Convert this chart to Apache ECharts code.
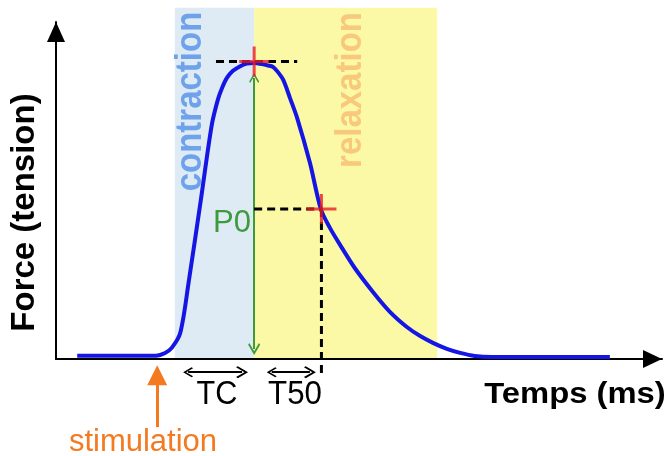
<!DOCTYPE html>
<html lang="fr">
<head>
<meta charset="UTF-8" />
<title>Secousse musculaire</title>
<script src="https://cdn.jsdelivr.net/npm/echarts@6/dist/echarts.min.js"></script>
<style>html,body{margin:0;padding:0;background:#fff}</style>
</head>
<body>
<div id="main" style="width:670px;height:456px"></div>
<script>
// courbe de force (temps en unités arbitraires, force en % de l'axe)
var tempsX = [3.5, 16.5, 18.0, 19.1, 20.5, 21.9, 23.9, 25.7, 26.7, 27.4, 28.2, 29.2, 30.4, 31.5, 32.7, 34.0, 35.0, 35.8, 36.6, 37.5,
              38.6, 39.8, 41.9, 43.7, 45.2, 46.9, 49.3, 52.3, 55.1, 57.9, 60.1, 62.2, 64.5, 66.7, 69.1, 72.0, 91.4];
var forceY = [1.0, 1.0, 1.8, 3.3, 7.7, 22.9, 47.2, 69.4, 76.9, 80.4, 83.4, 85.5, 86.9, 87.7, 87.8, 87.5, 87.1, 86.7, 85.2, 82.8,
              77.5, 71.5, 58.2, 44.5, 38.9, 33.8, 27.0, 19.9, 14.0, 9.5, 6.8, 4.8, 3.0, 1.8, 0.9, 0.6, 0.6];

// phases (début, fin)
var phaseContraction = [19.6, 32.7];
var phaseRelaxation = [32.7, 62.9];
var phaseTop = 104.2;

// repères
var pic = [32.7, 88.3];        // P0
var demi = [43.8, 44.5];       // T50
var dashPic = [26.4, 39.8];
var dashDemiBas = -4.2;
var flecheP0 = [83.4, 3.0];
var flecheTC = [21.8, 30.7];
var flecheT50 = [35.6, 41.9];
var flecheY = -3.9;
var stimX = 16.7;
var stimY = [-20.2, -4.8];

var chev = 'path://M5,0 L10,8.5 L9,10 L5,3 L1,10 L0,8.5 Z';
var croix = 'path://M4.5,0 H5.5 V4.5 H10 V5.5 H5.5 V10 H4.5 V5.5 H0 V4.5 H4.5 Z';
var phaseColors = ['#deebf4', '#fbf9a6'];

var curve = tempsX.map(function (t, i) { return [t, forceY[i]]; });

var myChart = echarts.init(document.getElementById('main'));

var dashStyle = { color: '#000', width: 3, type: [8, 5] };

var option = {
  backgroundColor: '#fff',
  animation: false,
  grid: { left: 56, right: 8, top: 22, bottom: 97, containLabel: false, outerBoundsMode: 'none' },
  xAxis: {
    type: 'value', min: 0, max: 100, z: 3,
    axisLine: { lineStyle: { color: '#000', width: 2 }, symbol: ['none', 'triangle'], symbolSize: [18, 19], symbolOffset: [0, -9.5] },
    axisTick: { show: false }, axisLabel: { show: false }, splitLine: { show: false }
  },
  yAxis: {
    type: 'value', min: 0, max: 100, z: 3,
    axisLine: { lineStyle: { color: '#000', width: 2 }, symbol: ['none', 'triangle'], symbolSize: [18, 20], symbolOffset: [0, -10] },
    axisTick: { show: false }, axisLabel: { show: false }, splitLine: { show: false },
    name: 'Force (tension)', nameLocation: 'middle', nameGap: 15, nameRotate: 90,
    nameTextStyle: { color: '#000', fontWeight: 'bold', fontSize: 33, fontFamily: 'Liberation Sans', padding: [0, 44, 0, 0] }
  },
  series: [
    {
      type: 'custom', clip: false, z: 1, silent: true,
      data: [phaseContraction, phaseRelaxation],
      renderItem: function (params, api) {
        var a = api.coord([api.value(0), phaseTop]);
        var b = api.coord([api.value(1), 0]);
        return {
          type: 'rect',
          shape: { x: a[0], y: a[1], width: b[0] - a[0], height: b[1] - a[1] },
          style: { fill: phaseColors[params.dataIndex] }
        };
      }
    },
    {
      type: 'line', data: curve, smooth: 0.3, symbol: 'none', clip: false, z: 4,
      lineStyle: { color: '#1616e4', width: 4 }
    },
    { type: 'line', data: [[dashPic[0], pic[1]], [dashPic[1], pic[1]]], symbol: 'none', clip: false, z: 5, lineStyle: dashStyle },
    { type: 'line', data: [[pic[0], demi[1]], [demi[0], demi[1]]], symbol: 'none', clip: false, z: 5, lineStyle: dashStyle },
    { type: 'line', data: [[demi[0], demi[1]], [demi[0], dashDemiBas]], symbol: 'none', clip: false, z: 5, lineStyle: dashStyle },
    {
      type: 'lines', coordinateSystem: 'cartesian2d', clip: false, z: 5,
      symbol: [chev, chev], symbolSize: [10, 12],
      lineStyle: { color: '#3d9a3d', width: 2, curveness: 0, opacity: 1 },
      data: [{ coords: [[pic[0], flecheP0[0]], [pic[0], flecheP0[1]]] }]
    },
    {
      type: 'lines', coordinateSystem: 'cartesian2d', clip: false, z: 5,
      symbol: [chev, chev], symbolSize: [10, 12],
      lineStyle: { color: '#000', width: 2, curveness: 0, opacity: 1 },
      data: [
        { coords: [[flecheTC[0], flecheY], [flecheTC[1], flecheY]] },
        { coords: [[flecheT50[0], flecheY], [flecheT50[1], flecheY]] }
      ]
    },
    {
      type: 'lines', coordinateSystem: 'cartesian2d', clip: false, z: 5,
      symbol: ['none', 'triangle'], symbolSize: [22, 20],
      lineStyle: { color: '#f47a22', width: 3, curveness: 0, opacity: 1 },
      data: [{ coords: [[stimX, stimY[0]], [stimX, stimY[1]]] }]
    },
    {
      type: 'scatter', symbol: croix, symbolSize: 30, clip: false, z: 6,
      itemStyle: { color: '#ec1c24' },
      data: [pic, demi]
    }
  ],
  graphic: [
    { type: 'text', x: 191, y: 101.5, rotation: Math.PI / 2, scaleY: 1.12, z: 10,
      style: { text: 'contraction', fontSize: 33, fontWeight: 'bold', fontFamily: 'Liberation Sans', fill: '#6ea2ea', align: 'center', verticalAlign: 'middle' } },
    { type: 'text', x: 351, y: 90, rotation: Math.PI / 2, scaleY: 1.12, z: 10,
      style: { text: 'relaxation', fontSize: 33, fontWeight: 'bold', fontFamily: 'Liberation Sans', fill: '#f8c87c', align: 'center', verticalAlign: 'middle' } },
    { type: 'text', x: 232, y: 223, z: 10,
      style: { text: 'P0', fontSize: 31, fontFamily: 'Liberation Sans', fill: '#3d9a3d', align: 'center', verticalAlign: 'middle' } },
    { type: 'text', x: 217, y: 395, scaleX: 0.9, z: 10,
      style: { text: 'TC', fontSize: 34, fontFamily: 'Liberation Sans', fill: '#000', align: 'center', verticalAlign: 'middle' } },
    { type: 'text', x: 295, y: 395, scaleX: 0.92, z: 10,
      style: { text: 'T50', fontSize: 34, fontFamily: 'Liberation Sans', fill: '#000', align: 'center', verticalAlign: 'middle' } },
    { type: 'text', x: 143, y: 442, z: 10,
      style: { text: 'stimulation', fontSize: 31, fontFamily: 'Liberation Sans', fill: '#f47a22', align: 'center', verticalAlign: 'middle' } },
    { type: 'text', x: 575, y: 395, scaleX: 1.13, z: 10,
      style: { text: 'Temps (ms)', fontSize: 29, fontWeight: 'bold', fontFamily: 'Liberation Sans', fill: '#000', align: 'center', verticalAlign: 'middle' } }
  ]
};

myChart.setOption(option);
</script>
</body>
</html>
